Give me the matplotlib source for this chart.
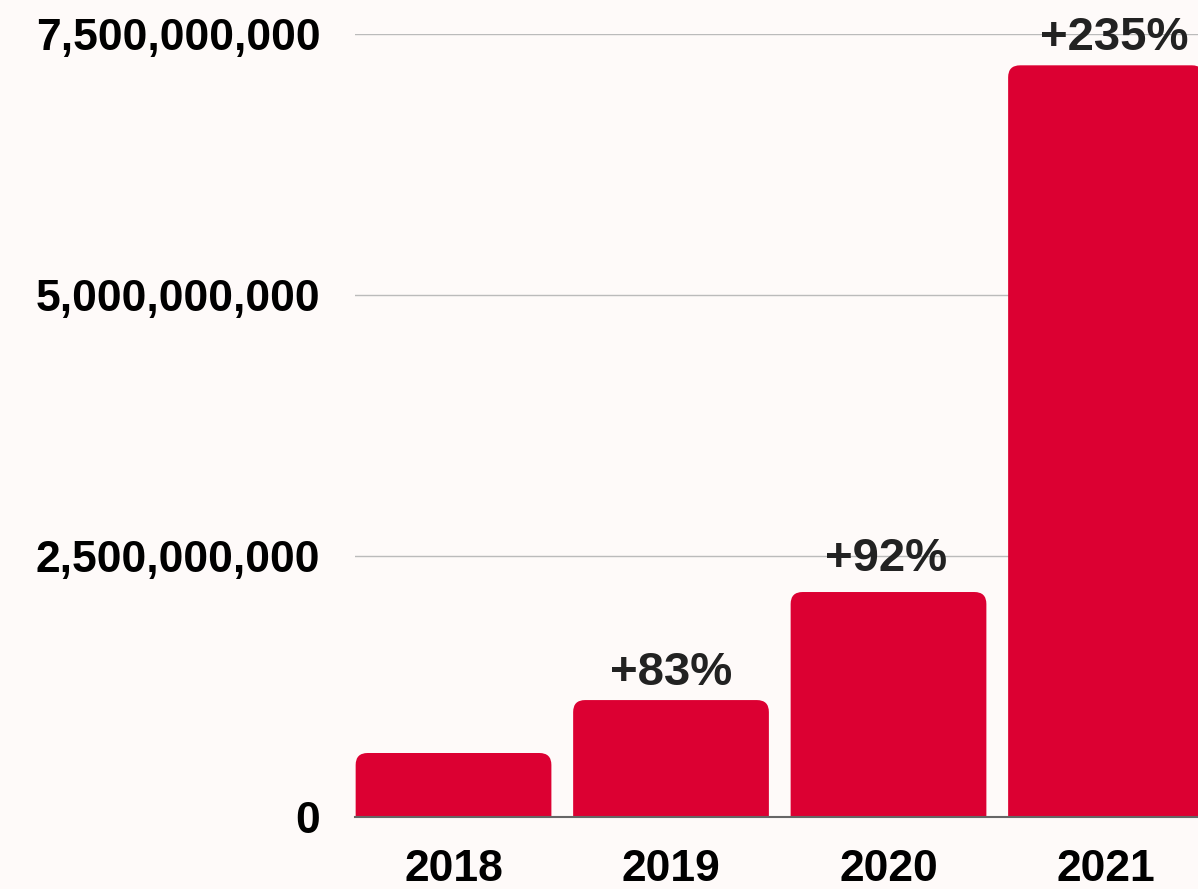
import matplotlib
matplotlib.use("Agg")
import matplotlib.pyplot as plt
from matplotlib.patches import PathPatch
from matplotlib.path import Path

years = ["2018", "2019", "2020", "2021"]
values = [0.613e9, 1.12e9, 2.155e9, 7.2e9]
growth_labels = ["", "+83%", "+92%", "+235%"]
yticks = [0, 2.5e9, 5.0e9, 7.5e9]
ytick_labels = ["0", "2,500,000,000", "5,000,000,000", "7,500,000,000"]

bg = "#FEFAF9"
bar_color = "#DC0032"

plt.rcParams['font.family'] = ['Liberation Sans', 'DejaVu Sans']
fig = plt.figure(figsize=(11.98, 8.89), dpi=100, facecolor=bg)
ax = fig.add_axes([355/1198, 72/889, 1 - 355/1198, (817-34)/889])
ax.set_facecolor(bg)

x = list(range(len(years)))
bars = ax.bar(x, values, width=0.9, color=bar_color, zorder=2)
ax.set_xlim(-0.453, 3.423)
ax.set_ylim(0, 7.5e9)

# rounded top corners
fig.canvas.draw()
p0 = ax.transData.transform((0, 0))
p1 = ax.transData.transform((1, 1e9))
xpx = (p1[0] - p0[0])
ypx = (p1[1] - p0[1]) / 1e9
rpx = 12
rx = rpx / xpx
ry = rpx / ypx
for b in bars:
    b.set_visible(False)
    x0, y0, w, h = b.get_x(), b.get_y(), b.get_width(), b.get_height()
    x1, y1 = x0 + w, y0 + h
    verts = [(x0, y0), (x0, y1 - ry), (x0, y1), (x0 + rx, y1),
             (x1 - rx, y1), (x1, y1), (x1, y1 - ry), (x1, y0), (x0, y0)]
    codes = [Path.MOVETO, Path.LINETO, Path.CURVE3, Path.CURVE3,
             Path.LINETO, Path.CURVE3, Path.CURVE3, Path.LINETO, Path.CLOSEPOLY]
    ax.add_patch(PathPatch(Path(verts, codes), facecolor=bar_color,
                           edgecolor="none", zorder=2))

label_dx = [0, 0, -2, 6]
label_dy = [11, 11, 15, 11]
for xi, v, lab, dx, dy in zip(x, values, growth_labels, label_dx, label_dy):
    if lab:
        ax.annotate(lab, (xi, v), xytext=(dx, dy), textcoords="offset points",
                    ha="center", va="baseline", fontsize=34, fontweight="bold",
                    color="#222222", zorder=4, annotation_clip=False)

ax.set_yticks(yticks)
ax.set_yticklabels(ytick_labels)
ax.set_xticks(x)
ax.set_xticklabels(years)
ax.tick_params(axis="y", length=0, pad=25, labelsize=32)
ax.tick_params(axis="x", length=0, pad=23, labelsize=32)
for lbl in ax.get_xticklabels() + ax.get_yticklabels():
    lbl.set_fontweight("bold")
    lbl.set_color("black")

ax.grid(axis="y", color="#BBBBBB", linewidth=1.0, zorder=0)
ax.set_axisbelow(True)
for s in ["top", "right", "left"]:
    ax.spines[s].set_visible(False)
ax.spines["bottom"].set_color("#666666")
ax.spines["bottom"].set_linewidth(1.5)
ax.spines["bottom"].set_zorder(3)

fig.savefig("out.png", dpi=100, facecolor=bg)
